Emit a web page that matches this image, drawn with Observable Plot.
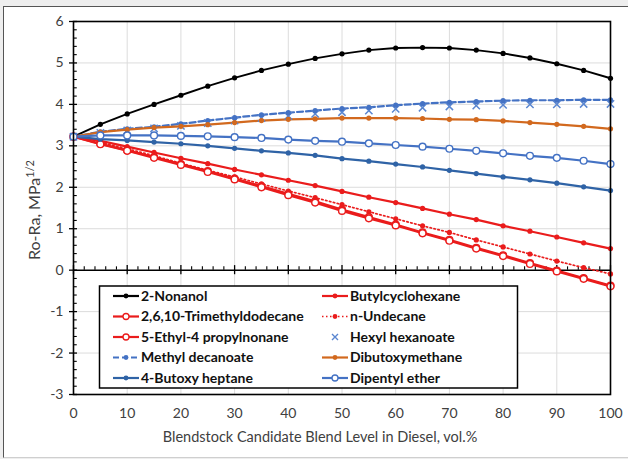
<!DOCTYPE html>
<html>
<head>
<meta charset="utf-8">
<script src="https://cdn.jsdelivr.net/npm/d3@7"></script>
<script src="https://cdn.jsdelivr.net/npm/@observablehq/plot@0.6"></script>
<style>
  html, body { margin: 0; padding: 0; }
  body { width: 628px; height: 459px; position: relative; background: #eeeeee; overflow: hidden; font-family: Lato, "Open Sans", sans-serif; }
  #frame { position: absolute; left: 3px; top: 6px; width: 640px; height: 450px; background: #ffffff;
           border-left: 1.5px solid #555; border-top: 1.5px solid #555; border-bottom: 1px solid #cfcfcf; }
  #chart { position: absolute; left: 0; top: 0; }
</style>
</head>
<body>
<div id="frame"></div>
<div id="chart"></div>
<script>
// ---- data ----
const blendLevel = [0,5,10,15,20,25,30,35,40,45,50,55,60,65,70,75,80,85,90,95,100];
const nonanol        = [3.22,3.52,3.77,4.00,4.22,4.44,4.64,4.82,4.97,5.11,5.22,5.31,5.36,5.37,5.36,5.31,5.23,5.12,4.98,4.82,4.63];
const butylcyclohex  = [3.22,3.12,2.98,2.84,2.70,2.57,2.43,2.30,2.17,2.04,1.90,1.76,1.63,1.49,1.35,1.22,1.07,0.94,0.80,0.66,0.52];
const trimethyldodec = [3.22,3.05,2.89,2.73,2.56,2.39,2.21,2.03,1.84,1.66,1.46,1.28,1.10,0.91,0.73,0.54,0.36,0.17,-0.01,-0.19,-0.37];
const nUndecane      = [3.22,3.08,2.93,2.76,2.58,2.41,2.25,2.08,1.91,1.75,1.58,1.41,1.24,1.07,0.91,0.73,0.56,0.39,0.22,0.06,-0.09];
const ethylPropylnon = [3.22,3.04,2.88,2.71,2.54,2.37,2.19,2.00,1.81,1.63,1.43,1.25,1.08,0.89,0.71,0.52,0.34,0.15,-0.03,-0.21,-0.39];
const hexylHexanoate = [3.22,3.31,3.37,3.42,3.48,3.55,3.61,3.67,3.72,3.77,3.81,3.85,3.89,3.92,3.95,3.97,3.99,4.00,4.00,4.01,4.01];
const methylDecanoate= [3.22,3.34,3.41,3.46,3.53,3.61,3.68,3.75,3.80,3.85,3.90,3.93,3.98,4.02,4.05,4.07,4.09,4.10,4.10,4.11,4.11];
const dibutoxymethane= [3.22,3.33,3.39,3.44,3.47,3.51,3.56,3.61,3.64,3.65,3.67,3.67,3.67,3.66,3.64,3.63,3.60,3.56,3.52,3.47,3.41];
const butoxyHeptane  = [3.22,3.16,3.13,3.09,3.05,3.00,2.94,2.88,2.83,2.77,2.69,2.63,2.56,2.49,2.41,2.33,2.25,2.18,2.10,2.01,1.92];
const dipentylEther  = [3.22,3.25,3.25,3.25,3.24,3.23,3.21,3.19,3.15,3.12,3.10,3.06,3.02,2.98,2.93,2.88,2.82,2.76,2.71,2.64,2.56];

const xTicks = [0,10,20,30,40,50,60,70,80,90,100];
const yTicks = [-3,-2,-1,0,1,2,3,4,5,6];
const xMinor = d3.range(0, 101, 2).filter(v => v % 10 !== 0);
const yMinor = d3.range(-30, 61, 2).map(v => v / 10).filter(v => Math.abs(v - Math.round(v)) > 1e-9);

// ---- styles ----
const RED = "#ea1c1c", BLUE = "#4472c4", DBLUE = "#2f63a6", ORANGE = "#d2691e", XBLUE = "#5a86d0";
const series = [
  {name: "2-Nonanol", values: nonanol, color: "#000000", dash: null, line: true, marker: "dot", col: 0, row: 0},
  {name: "Butylcyclohexane", values: butylcyclohex, color: RED, dash: null, line: true, marker: "dot", col: 1, row: 0},
  {name: "2,6,10-Trimethyldodecane", values: trimethyldodec, color: RED, dash: null, line: true, marker: "open", col: 0, row: 1},
  {name: "n-Undecane", values: nUndecane, color: RED, dash: "1.5,2.5", line: true, marker: "dot", col: 1, row: 1},
  {name: "5-Ethyl-4 propylnonane", values: ethylPropylnon, color: RED, dash: null, line: true, marker: "open", col: 0, row: 2},
  {name: "Hexyl hexanoate", values: hexylHexanoate, color: XBLUE, dash: null, line: false, marker: "x", col: 1, row: 2},
  {name: "Methyl decanoate", values: methylDecanoate, color: BLUE, dash: "6,3", line: true, marker: "dot", col: 0, row: 3},
  {name: "Dibutoxymethane", values: dibutoxymethane, color: ORANGE, dash: null, line: true, marker: "dot", col: 1, row: 3},
  {name: "4-Butoxy heptane", values: butoxyHeptane, color: DBLUE, dash: null, line: true, marker: "dot", col: 0, row: 4},
  {name: "Dipentyl ether", values: dipentylEther, color: BLUE, dash: null, line: true, marker: "open", col: 1, row: 4}
];
const tables = series.map(s => s.values.map((v, i) => ({x: blendLevel[i], y: v, name: s.name})));

// ---- marks ----
const marks = [
  Plot.gridX(xTicks.filter(v => v > 0 && v < 100), {stroke: "#dcdcdc", strokeOpacity: 1, strokeWidth: 1}),
  Plot.gridY(yTicks.filter(v => v !== 0 && v !== 6 && v !== -3), {stroke: "#dcdcdc", strokeOpacity: 1, strokeWidth: 1}),
  Plot.axisX(xTicks, {anchor: "bottom", tickSize: 0, tickPadding: 14, fontSize: 14, fill: "#404040", label: null, tickFormat: d => String(d)}),
  Plot.axisY(yTicks, {anchor: "left", tickSize: 0, tickPadding: 10, fontSize: 14, fill: "#404040", label: null, tickFormat: d => String(d)}),
  Plot.ruleY([0], {stroke: "#000", strokeWidth: 1.5}),
  Plot.ruleX(xTicks, {x: d => d, y1: -0.11, y2: 0.11, stroke: "#000", strokeWidth: 1.3}),
  Plot.ruleX(xMinor, {x: d => d, y1: 0, y2: 0.08, stroke: "#000", strokeWidth: 1.1}),
  Plot.ruleY(yTicks, {y: d => d, x1: -0.75, x2: 0.75, stroke: "#000", strokeWidth: 1.3}),
  Plot.ruleY(yMinor, {y: d => d, x1: 0, x2: 0.7, stroke: "#000", strokeWidth: 1.1})
];
series.forEach((s, k) => {
  if (s.line) {
    const w = s.dash === "1.5,2.5" ? 1.7 : (s.color === "#000000" ? 1.9 : 2.2);
    marks.push(Plot.line(tables[k], {x: "x", y: "y", stroke: s.color, strokeWidth: w,
      strokeDasharray: s.dash || undefined}));
  }
});
series.forEach((s, k) => {
  const data = tables[k];
  if (s.marker === "dot") {
    marks.push(Plot.dot(data, {x: "x", y: "y", r: 2.6, fill: s.color, stroke: "none"}));
  } else if (s.marker === "open") {
    marks.push(Plot.dot(data, {x: "x", y: "y", r: 3.4, fill: "#ffffff", stroke: s.color, strokeWidth: 1.4}));
  } else if (s.marker === "x") {
    marks.push(Plot.dot(data, {x: "x", y: "y", r: 3.4, symbol: "times", stroke: s.color, strokeWidth: 1.5}));
  }
});
marks.push(Plot.frame({stroke: "#000", strokeWidth: 1.6}));

const chart = Plot.plot({
  width: 628, height: 459,
  marginLeft: 73, marginRight: 18, marginTop: 21, marginBottom: 65,
  x: {domain: [0, 100]},
  y: {domain: [-3, 6]},
  style: {fontFamily: "Lato, 'Open Sans', sans-serif", fontSize: "14px", background: "transparent", overflow: "visible"},
  marks
});
document.getElementById("chart").appendChild(chart);

// ---- titles and legend ----
const svg = d3.select(chart);
const yt = svg.append("text")
  .attr("transform", "translate(40,210) rotate(-90)")
  .attr("text-anchor", "middle")
  .attr("font-family", "Lato, 'Open Sans', sans-serif")
  .attr("font-size", 16).attr("fill", "#404040");
yt.append("tspan").text("Ro-Ra, MPa");
yt.append("tspan").attr("font-size", 11).attr("dy", -6).text("1/2");

svg.append("text")
  .attr("x", 320).attr("y", 442)
  .attr("text-anchor", "middle")
  .attr("font-family", "Lato, 'Open Sans', sans-serif")
  .attr("font-size", 14.5).attr("fill", "#404040")
  .text("Blendstock Candidate Blend Level in Diesel, vol.%");

const lg = svg.append("g").attr("text-anchor", "start");
lg.append("rect").attr("x", 99.5).attr("y", 286).attr("width", 418).attr("height", 102)
  .attr("fill", "#fff").attr("stroke", "#000").attr("stroke-width", 1.5);
const colX = [113, 322], rowY = [296, 316.5, 337, 357.5, 378];
series.forEach(s => {
  const x0 = colX[s.col], y0 = rowY[s.row];
  if (s.line) {
    lg.append("line").attr("x1", x0).attr("x2", x0 + 26).attr("y1", y0).attr("y2", y0)
      .attr("stroke", s.color).attr("stroke-width", s.dash === "1.5,2.5" ? 1.7 : 2.2)
      .attr("stroke-dasharray", s.dash);
  }
  const cx = x0 + 13;
  if (s.marker === "dot") {
    lg.append("circle").attr("cx", cx).attr("cy", y0).attr("r", 2.4).attr("fill", s.color);
  } else if (s.marker === "open") {
    lg.append("circle").attr("cx", cx).attr("cy", y0).attr("r", 3).attr("fill", "#fff")
      .attr("stroke", s.color).attr("stroke-width", 1.3);
  } else {
    lg.append("path").attr("d", `M${cx-3},${y0-3}L${cx+3},${y0+3}M${cx-3},${y0+3}L${cx+3},${y0-3}`)
      .attr("stroke", s.color).attr("stroke-width", 1.4);
  }
  lg.append("text").attr("x", x0 + 28).attr("y", y0).attr("dy", "0.35em")
    .attr("text-anchor", "start")
    .attr("font-family", "Lato, 'Open Sans', sans-serif").attr("font-weight", "bold")
    .attr("font-size", 14).attr("fill", "#111").text(s.name);
});
</script>
</body>
</html>
